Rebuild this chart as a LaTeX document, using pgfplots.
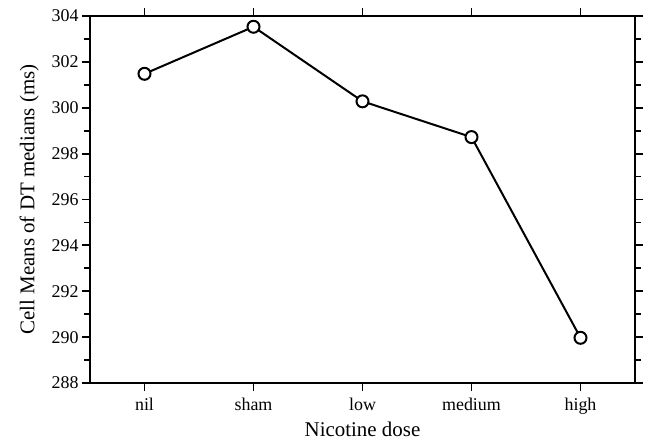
\documentclass[border=0pt]{standalone}
\usepackage{pgfplots}
\pgfplotsset{compat=1.18}
\usepackage{fontspec}
\setmainfont{Liberation Serif}
\begin{document}
\begin{tikzpicture}
\begin{axis}[
  scale only axis,
  width=545bp, height=367bp,
  xmin=-0.5, xmax=4.5,
  ymin=288, ymax=304,
  xtick={0,1,2,3,4},
  xticklabels={nil,sham,low,medium,high},
  ytick={288,290,...,304},
  minor ytick={289,291,...,303},
  tick align=outside,
  major tick length=8bp,
  minor tick length=6bp,
  axis line style={line width=2bp},
  every tick/.style={line width=1.8bp, black},
  /pgf/number format/assume math mode=true,
  tick label style={font=\fontsize{18}{21}\selectfont},
  xticklabel style={yshift=-4bp},
  label style={font=\fontsize{21}{25}\selectfont},
  xlabel={Nicotine dose},
  ylabel={Cell Means of DT medians (ms)},
  xlabel style={yshift=0bp},
  ylabel style={yshift=6bp},
  clip=false,
]
\addplot[black, line width=2bp, mark=*, mark size=6bp, mark options={draw=black, line width=2bp, fill=white}]
  coordinates {(0,301.48) (1,303.53) (2,300.28) (3,298.72) (4,289.97)};
\end{axis}
\path[use as bounding box] ([shift={(-90bp,-58bp)}]current axis.south west) rectangle ++(648bp,441bp);
\end{tikzpicture}
\end{document}
